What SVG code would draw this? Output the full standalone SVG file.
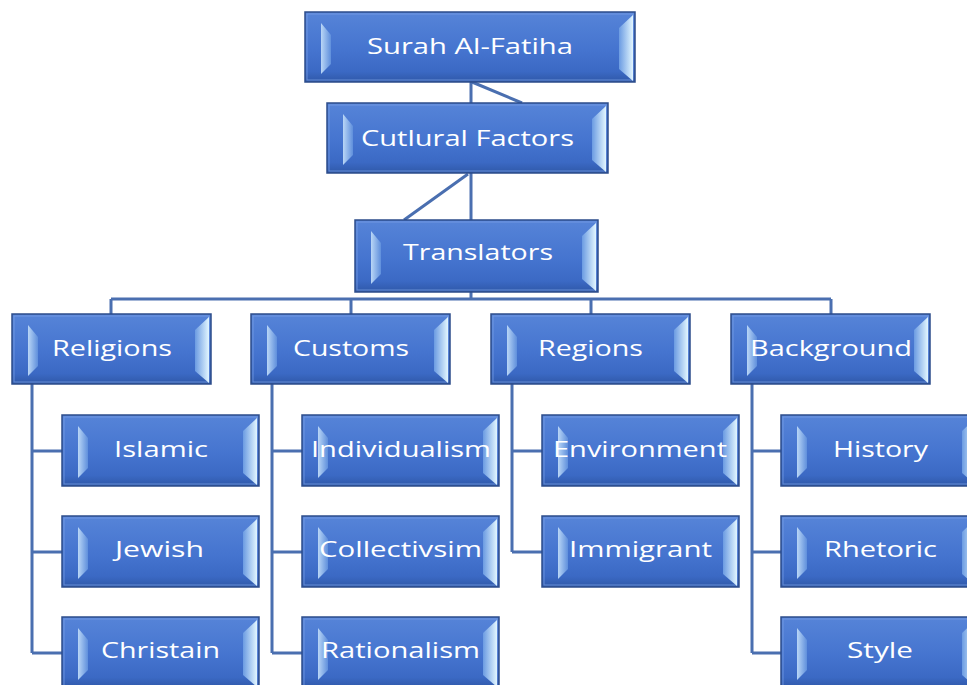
<svg xmlns="http://www.w3.org/2000/svg" width="967" height="685" viewBox="0 0 967 685">
<defs>
<linearGradient id="gFace" x1="0" y1="0" x2="0" y2="1">
<stop offset="0" stop-color="#5684d8"/>
<stop offset="0.55" stop-color="#4574cf"/>
<stop offset="0.85" stop-color="#3b69c4"/>
<stop offset="1" stop-color="#2f58a8"/>
</linearGradient>
<linearGradient id="gLeft" x1="0" y1="0" x2="1" y2="0">
<stop offset="0" stop-color="#b9d6f6"/>
<stop offset="1" stop-color="#5f8fdc"/>
</linearGradient>
<linearGradient id="gRight" x1="0" y1="0" x2="1" y2="0">
<stop offset="0" stop-color="#6b9be2"/>
<stop offset="1" stop-color="#e2f6ff"/>
</linearGradient>
</defs>
<style>
.face{fill:url(#gFace);stroke:#2c4c8a;stroke-width:1.5}
.bl{fill:url(#gLeft)}
.br{fill:url(#gRight)}
.hl{fill:none;stroke:#7ea4e6;stroke-width:1;opacity:0.7}
.lbl{font-family:"Open Sans","Noto Sans","DejaVu Sans",sans-serif;font-size:22px;fill:#ffffff;text-anchor:middle}
.con{fill:none;stroke:#4a6fb0;stroke-width:3}
</style>
<rect width="967" height="685" fill="#ffffff"/>
<g id="connectors">
<path class="con" d="M471,82 V103 M472,82 L522,103 M471,173 V220 M468,174 L404,220 M471,292 V299 M111,299 H831 M111,299 V314 M351,299 V314 M591,299 V314 M831,299 V314"/>
<path class="con" d="M32,384 V653 M32,451 H62 M32,552 H62 M32,653 H62"/>
<path class="con" d="M272,384 V653 M272,451 H302 M272,552 H302 M272,653 H302"/>
<path class="con" d="M512,384 V552 M512,451 H542 M512,552 H542"/>
<path class="con" d="M752,384 V653 M752,451 H781 M752,552 H781 M752,653 H781"/>
</g>
<g id="surah">
<rect class="face" x="305" y="12" width="330" height="70"/>
<rect class="hl" x="307" y="14" width="326" height="66"/>
<polygon class="bl" points="321,23 331,35 331,64 321,74"/>
<polygon class="br" points="633,15 619,28 619,69 633,81"/>
<text class="lbl" x="470" y="54" textLength="206" lengthAdjust="spacingAndGlyphs">Surah Al-Fatiha</text>
</g>
<g id="cultural">
<rect class="face" x="327" y="103" width="281" height="70"/>
<rect class="hl" x="329" y="105" width="277" height="66"/>
<polygon class="bl" points="343,114 353,126 353,155 343,165"/>
<polygon class="br" points="606,106 592,119 592,160 606,172"/>
<text class="lbl" x="467.5" y="146" textLength="213" lengthAdjust="spacingAndGlyphs">Cutlural Factors</text>
</g>
<g id="translators">
<rect class="face" x="355" y="220" width="243" height="72"/>
<rect class="hl" x="357" y="222" width="239" height="68"/>
<polygon class="bl" points="371,231 381,243 381,274 371,284"/>
<polygon class="br" points="596,223 582,236 582,279 596,291"/>
<text class="lbl" x="478" y="260" textLength="150" lengthAdjust="spacingAndGlyphs">Translators</text>
</g>
<g id="religions">
<rect class="face" x="12" y="314" width="199" height="70"/>
<rect class="hl" x="14" y="316" width="195" height="66"/>
<polygon class="bl" points="28,325 38,337 38,366 28,376"/>
<polygon class="br" points="209,317 195,330 195,371 209,383"/>
<text class="lbl" x="112" y="356" textLength="120" lengthAdjust="spacingAndGlyphs">Religions</text>
</g>
<g id="customs">
<rect class="face" x="251" y="314" width="199" height="70"/>
<rect class="hl" x="253" y="316" width="195" height="66"/>
<polygon class="bl" points="267,325 277,337 277,366 267,376"/>
<polygon class="br" points="448,317 434,330 434,371 448,383"/>
<text class="lbl" x="351" y="356" textLength="116" lengthAdjust="spacingAndGlyphs">Customs</text>
</g>
<g id="regions">
<rect class="face" x="491" y="314" width="199" height="70"/>
<rect class="hl" x="493" y="316" width="195" height="66"/>
<polygon class="bl" points="507,325 517,337 517,366 507,376"/>
<polygon class="br" points="688,317 674,330 674,371 688,383"/>
<text class="lbl" x="590.5" y="356" textLength="105" lengthAdjust="spacingAndGlyphs">Regions</text>
</g>
<g id="background">
<rect class="face" x="731" y="314" width="199" height="70"/>
<rect class="hl" x="733" y="316" width="195" height="66"/>
<polygon class="bl" points="747,325 757,337 757,366 747,376"/>
<polygon class="br" points="928,317 914,330 914,371 928,383"/>
<text class="lbl" x="831" y="356" textLength="162" lengthAdjust="spacingAndGlyphs">Background</text>
</g>
<g id="islamic">
<rect class="face" x="62" y="415" width="197" height="71"/>
<rect class="hl" x="64" y="417" width="193" height="67"/>
<polygon class="bl" points="78,426 88,438 88,468 78,478"/>
<polygon class="br" points="257,418 243,431 243,473 257,485"/>
<text class="lbl" x="161" y="457" textLength="94" lengthAdjust="spacingAndGlyphs">Islamic</text>
</g>
<g id="jewish">
<rect class="face" x="62" y="516" width="197" height="71"/>
<rect class="hl" x="64" y="518" width="193" height="67"/>
<polygon class="bl" points="78,527 88,539 88,569 78,579"/>
<polygon class="br" points="257,519 243,532 243,574 257,586"/>
<text class="lbl" x="159.5" y="557" textLength="89" lengthAdjust="spacingAndGlyphs">Jewish</text>
</g>
<g id="christain">
<rect class="face" x="62" y="617" width="197" height="71"/>
<rect class="hl" x="64" y="619" width="193" height="67"/>
<polygon class="bl" points="78,628 88,640 88,670 78,680"/>
<polygon class="br" points="257,620 243,633 243,675 257,687"/>
<text class="lbl" x="160.5" y="658" textLength="119" lengthAdjust="spacingAndGlyphs">Christain</text>
</g>
<g id="individualism">
<rect class="face" x="302" y="415" width="197" height="71"/>
<rect class="hl" x="304" y="417" width="193" height="67"/>
<polygon class="bl" points="318,426 328,438 328,468 318,478"/>
<polygon class="br" points="497,418 483,431 483,473 497,485"/>
<text class="lbl" x="401" y="457" textLength="180" lengthAdjust="spacingAndGlyphs">Individualism</text>
</g>
<g id="collectivsim">
<rect class="face" x="302" y="516" width="197" height="71"/>
<rect class="hl" x="304" y="518" width="193" height="67"/>
<polygon class="bl" points="318,527 328,539 328,569 318,579"/>
<polygon class="br" points="497,519 483,532 483,574 497,586"/>
<text class="lbl" x="400.5" y="557" textLength="163" lengthAdjust="spacingAndGlyphs">Collectivsim</text>
</g>
<g id="rationalism">
<rect class="face" x="302" y="617" width="197" height="71"/>
<rect class="hl" x="304" y="619" width="193" height="67"/>
<polygon class="bl" points="318,628 328,640 328,670 318,680"/>
<polygon class="br" points="497,620 483,633 483,675 497,687"/>
<text class="lbl" x="400.5" y="658" textLength="159" lengthAdjust="spacingAndGlyphs">Rationalism</text>
</g>
<g id="environment">
<rect class="face" x="542" y="415" width="197" height="71"/>
<rect class="hl" x="544" y="417" width="193" height="67"/>
<polygon class="bl" points="558,426 568,438 568,468 558,478"/>
<polygon class="br" points="737,418 723,431 723,473 737,485"/>
<text class="lbl" x="640" y="457" textLength="174" lengthAdjust="spacingAndGlyphs">Environment</text>
</g>
<g id="immigrant">
<rect class="face" x="542" y="516" width="197" height="71"/>
<rect class="hl" x="544" y="518" width="193" height="67"/>
<polygon class="bl" points="558,527 568,539 568,569 558,579"/>
<polygon class="br" points="737,519 723,532 723,574 737,586"/>
<text class="lbl" x="640.5" y="557" textLength="143" lengthAdjust="spacingAndGlyphs">Immigrant</text>
</g>
<g id="history">
<rect class="face" x="781" y="415" width="197" height="71"/>
<rect class="hl" x="783" y="417" width="193" height="67"/>
<polygon class="bl" points="797,426 807,438 807,468 797,478"/>
<polygon class="br" points="976,418 962,431 962,473 976,485"/>
<text class="lbl" x="880.5" y="457" textLength="95" lengthAdjust="spacingAndGlyphs">History</text>
</g>
<g id="rhetoric">
<rect class="face" x="781" y="516" width="197" height="71"/>
<rect class="hl" x="783" y="518" width="193" height="67"/>
<polygon class="bl" points="797,527 807,539 807,569 797,579"/>
<polygon class="br" points="976,519 962,532 962,574 976,586"/>
<text class="lbl" x="880.5" y="557" textLength="113" lengthAdjust="spacingAndGlyphs">Rhetoric</text>
</g>
<g id="style">
<rect class="face" x="781" y="617" width="197" height="71"/>
<rect class="hl" x="783" y="619" width="193" height="67"/>
<polygon class="bl" points="797,628 807,640 807,670 797,680"/>
<polygon class="br" points="976,620 962,633 962,675 976,687"/>
<text class="lbl" x="880" y="658" textLength="66" lengthAdjust="spacingAndGlyphs">Style</text>
</g>
</svg>
